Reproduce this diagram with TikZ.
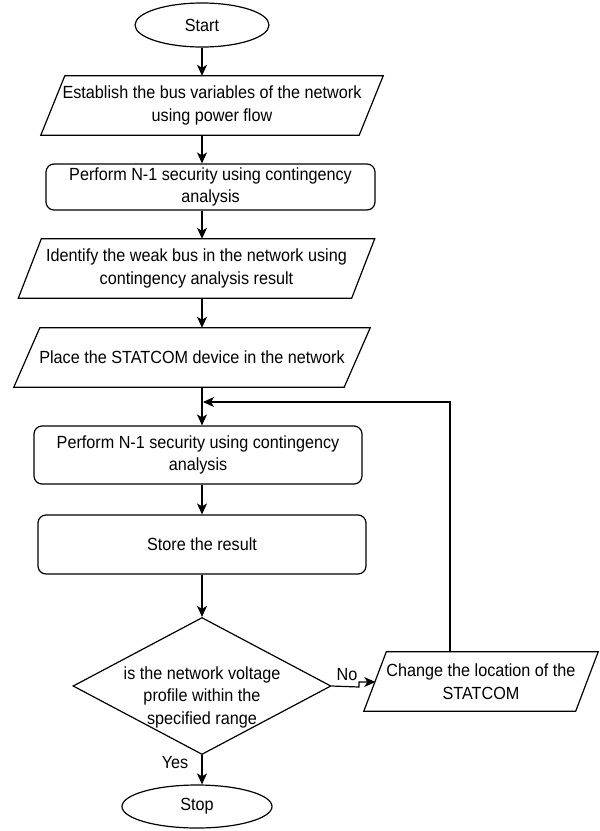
\documentclass[tikz,border=0pt]{standalone}
\usepackage{fontspec}
\setmainfont{Liberation Sans}[FakeStretch=0.92]
\usetikzlibrary{shapes.geometric,arrows.meta,calc}
\newcommand\drawpara[2]{\draw[ln] ([xshift=#2]#1.north west) -- ([xshift=#2]#1.north east) -- ([xshift=-#2]#1.south east) -- ([xshift=-#2]#1.south west) -- cycle;}
\begin{document}
\begin{tikzpicture}[x=1pt,y=-1pt,
  every node/.style={font=\fontsize{17.6}{22.5}\selectfont, align=center, inner sep=0pt},
  ln/.style={line width=1.2pt, line join=miter},
  termin/.style={ellipse, draw, line width=1.2pt},
  pbox/.style={rectangle, draw=none},
  rbox/.style={rectangle, draw, line width=1.2pt, rounded corners=8pt},
  arr/.style={line width=1.2pt, -{Stealth[length=11pt,width=10pt,inset=3pt]}},
  lbl/.style={font=\fontsize{17.6}{20}\selectfont}
]
\useasboundingbox (0,0) rectangle (600,831);

\node[termin, minimum width=134pt, minimum height=44pt] (start) at (202,25) {Start};

\node[pbox, minimum width=318pt, minimum height=59pt] (p1) at (212,105.5) {Establish the bus variables of the network\\using power flow};
\drawpara{p1}{12pt}

\node[rbox, minimum width=329pt, minimum height=46pt] (r1) at (210.5,187) {Perform N-1 security using contingency\\analysis};

\node[pbox, minimum width=333pt, minimum height=59pt] (p2) at (196.5,268.5) {Identify the weak bus in the network using\\contingency analysis result};
\drawpara{p2}{11.5pt}

\node[pbox, minimum width=330pt, minimum height=59pt] (p3) at (192,357.5) {Place the STATCOM device in the network};
\drawpara{p3}{13pt}

\node[rbox, minimum width=328pt, minimum height=58pt] (r2) at (198,455) {Perform N-1 security using contingency\\analysis};

\node[rbox, minimum width=328pt, minimum height=59pt] (r3) at (202,544.5) {Store the result};

\node[diamond, draw, line width=1.2pt, minimum width=258pt, minimum height=137pt] (d) at (202,686) {};
\node (dtext) at (202,697) {is the network voltage\\profile within the\\specified range};

\node[pbox, minimum width=211.5pt, minimum height=59pt] (p4) at (481,681.5) {Change the location of the\\STATCOM};
\drawpara{p4}{11.25pt}

\node[termin, minimum width=150pt, minimum height=43pt] (stop) at (197,806.5) {Stop};

\node[lbl] (no) at (347,675) {No};
\node[lbl] (yes) at (175,763) {Yes};

\coordinate (step1) at (359,687);
\coordinate (step2) at (359,682);
\coordinate (p4in) at (375.3,682);
\coordinate (join) at (203,402);

\draw[arr] (start) -- (start |- p1.north);
\draw[arr] (p1.south -| start) -- (start |- r1.north);
\draw[arr] (r1.south -| start) -- (start |- p2.north);
\draw[arr] (p2.south -| start) -- (start |- p3.north);
\draw[arr] (p3.south -| start) -- (start |- r2.north);
\draw[arr] (r2.south -| start) -- (start |- r3.north);
\draw[arr] (r3.south -| start) -- (d.north);
\draw[arr] (d.south) -- (d.south |- stop.north);
\draw[arr] (d.east) -- (step1) -- (step2) -- (p4in);
\draw[arr] ([xshift=-31pt]p4.north) |- (join);
\end{tikzpicture}
\end{document}
